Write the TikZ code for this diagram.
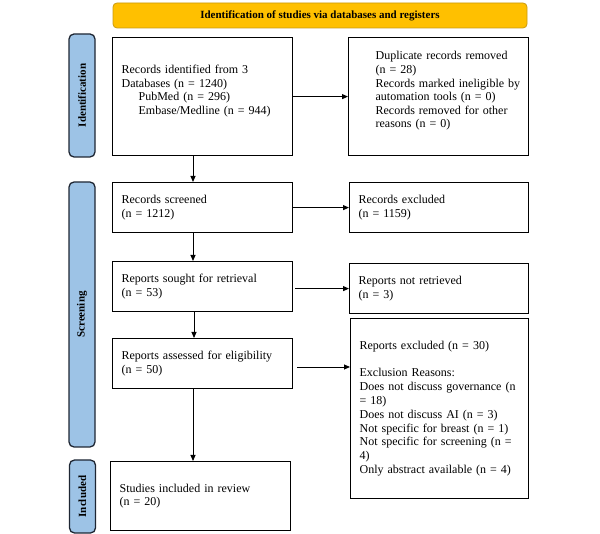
\documentclass[tikz,border=0pt]{standalone}
\usepackage{fontspec}
\setmainfont{Liberation Serif}
\usetikzlibrary{arrows.meta}
\definecolor{bannerfill}{HTML}{FFC000}
\definecolor{bannerdraw}{HTML}{C99A10}
\definecolor{labfill}{HTML}{9DC3E6}
\definecolor{labdraw}{HTML}{1E2633}
\begin{document}
\begin{tikzpicture}[x=1pt,y=-1pt,
  box/.style={draw=black, line width=1.2pt, anchor=north west, inner xsep=9pt, inner ysep=0pt,
    align=left, font=\fontsize{12}{13.6}\selectfont},
  sidelab/.style={draw=labdraw, fill=labfill, line width=1.3pt, rounded corners=5pt, rotate=90,
    minimum height=26pt, inner sep=0pt, font=\bfseries\fontsize{11}{13}\selectfont},
  banner/.style={draw=bannerdraw, fill=bannerfill, line width=0.8pt, rounded corners=4pt,
    minimum width=414pt, minimum height=25pt, inner sep=0pt, font=\bfseries\fontsize{11}{13}\selectfont},
  flow/.style={-{Triangle[length=6pt,width=5pt]}, line width=0.9pt, black}]
\useasboundingbox (0,0) rectangle (600,534);

\node[banner] (ban) at (320,15.5) {Identification of studies via databases and registers};

\node[sidelab, minimum width=123pt] (lid) at (82,95.5) {Identification};
\node[sidelab, minimum width=265pt] (lsc) at (82,314.5) {Screening};
\node[sidelab, minimum width=73pt] (lin) at (82.5,496.5) {Included};

\node[box, minimum width=180pt, minimum height=118pt, text width=162pt] (b1) at (112,37)
  {Records identified from 3\\Databases (n = 1240)\\\hspace*{17pt}PubMed (n = 296)\\\hspace*{17pt}Embase/Medline (n = 944)\\ \mbox{}};
\node[box, minimum width=180pt, minimum height=118pt, text width=172pt, inner xsep=4pt] (dup) at (348,37)
  {\hspace*{23pt}Duplicate records removed\\\hspace*{23pt}(n = 28)\\\hspace*{23pt}Records marked ineligible by\\\hspace*{23pt}automation tools (n = 0)\\\hspace*{23pt}Records removed for other\\\hspace*{23pt}reasons (n = 0)\\ \mbox{}};

\node[box, minimum width=180pt, minimum height=50pt, text width=162pt] (scr) at (112,182)
  {Records screened\\(n = 1212)};
\node[box, minimum width=179pt, minimum height=50pt, text width=161pt] (exc) at (349,182)
  {Records excluded\\(n = 1159)};

\node[box, minimum width=180pt, minimum height=50pt, text width=162pt] (sought) at (112,261)
  {Reports sought for retrieval\\(n = 53)};
\node[box, minimum width=179pt, minimum height=50pt, text width=161pt] (notret) at (349,263)
  {Reports not retrieved\\(n = 3)};

\node[box, minimum width=180pt, minimum height=50pt, text width=162pt] (assess) at (112,338)
  {Reports assessed for eligibility\\(n = 50)};
\node[box, minimum width=178pt, minimum height=180pt, text width=160pt, font=\fontsize{12}{13.8}\selectfont] (rexc) at (350,318)
  {Reports excluded (n = 30)\\ \mbox{}\\Exclusion Reasons:\\Does not discuss governance (n\\= 18)\\Does not discuss AI (n = 3)\\Not specific for breast (n = 1)\\Not specific for screening (n =\\4)\\Only abstract available (n = 4)};

\node[box, minimum width=180pt, minimum height=69pt, text width=162pt] (incl) at (110,461)
  {Studies included in review\\(n = 20)};

\coordinate (vx) at (193,0);
\coordinate (ya) at (0,367);

\draw[flow] (b1.east) -- (dup.west);
\draw[flow] (b1.south -| vx) -- (scr.north -| vx);
\draw[flow] (scr.east) -- (exc.west);
\draw[flow] (scr.south -| vx) -- (sought.north -| vx);
\draw[flow] ([xshift=2pt]sought.east |- notret.west) -- (notret.west);
\draw[flow] ([xshift=1pt]sought.south -| vx) -- ([xshift=1pt]assess.north -| vx);
\draw[flow] ([xshift=4pt]assess.east |- ya) -- (rexc.west |- ya);
\draw[flow] (assess.south -| vx) -- (incl.north -| vx);
\end{tikzpicture}
\end{document}
